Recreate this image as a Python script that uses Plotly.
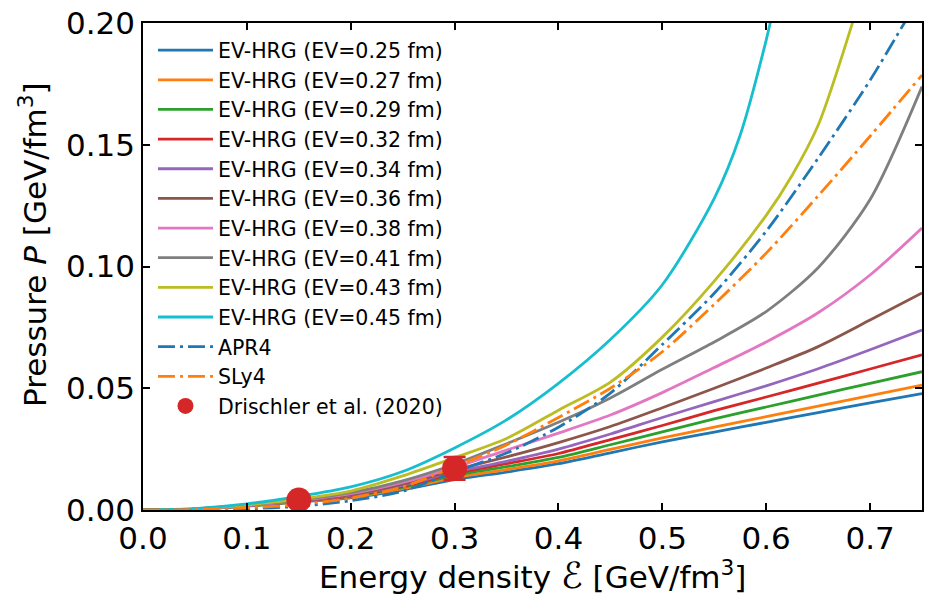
import plotly.graph_objects as go

# ---- data ----
x_grid = [0.0, 0.05, 0.10, 0.15, 0.20, 0.25, 0.30, 0.35, 0.40, 0.45, 0.50, 0.55, 0.60, 0.65, 0.70, 0.75]

p_ev025 = [0, 0.0004, 0.0016, 0.0033, 0.0050, 0.0083, 0.0125, 0.0156, 0.0190, 0.0235, 0.0280, 0.0320, 0.0360, 0.0400, 0.0440, 0.0478]
p_ev027 = [0, 0.0004, 0.0017, 0.0034, 0.0053, 0.0088, 0.0133, 0.0166, 0.0202, 0.0249, 0.0296, 0.0340, 0.0383, 0.0427, 0.0470, 0.0513]
p_ev029 = [0, 0.0004, 0.0017, 0.0035, 0.0056, 0.0093, 0.0142, 0.0178, 0.0216, 0.0268, 0.0321, 0.0374, 0.0423, 0.0472, 0.0520, 0.0568]
p_ev032 = [0, 0.0004, 0.0018, 0.0036, 0.0058, 0.0097, 0.0150, 0.0190, 0.0232, 0.0289, 0.0347, 0.0408, 0.0464, 0.0521, 0.0579, 0.0637]
p_ev034 = [0, 0.0004, 0.0018, 0.0037, 0.0061, 0.0101, 0.0156, 0.0200, 0.0250, 0.0312, 0.0380, 0.0445, 0.0510, 0.0580, 0.0658, 0.0739]
p_ev036 = [0, 0.0004, 0.0019, 0.0038, 0.0063, 0.0106, 0.0164, 0.0218, 0.0277, 0.0343, 0.0420, 0.0500, 0.0583, 0.0671, 0.0780, 0.0891]
p_ev038 = [0, 0.0004, 0.0019, 0.0039, 0.0067, 0.0113, 0.0175, 0.0246, 0.0316, 0.0390, 0.0482, 0.0585, 0.0690, 0.0810, 0.0965, 0.1158]
p_ev041 = [0, 0.0005, 0.0020, 0.0041, 0.0071, 0.0120, 0.0188, 0.0272, 0.0360, 0.0460, 0.0578, 0.0690, 0.0815, 0.0995, 0.1275, 0.1739]

x_ev043 = [0.0, 0.05, 0.10, 0.15, 0.20, 0.25, 0.30, 0.35, 0.40, 0.45, 0.50, 0.55, 0.60, 0.625, 0.65, 0.683, 0.70]
p_ev043 = [0, 0.0005, 0.0021, 0.0045, 0.0078, 0.0140, 0.0215, 0.0294, 0.0410, 0.0525, 0.0710, 0.0940, 0.1210, 0.1375, 0.1580, 0.2000, 0.2250]

x_ev045 = [0.0, 0.05, 0.10, 0.15, 0.20, 0.25, 0.30, 0.35, 0.40, 0.45, 0.50, 0.55, 0.575, 0.60, 0.61]
p_ev045 = [0, 0.0006, 0.0025, 0.0056, 0.0095, 0.0158, 0.0255, 0.0370, 0.0520, 0.0700, 0.0925, 0.1280, 0.1540, 0.1930, 0.2120]

x_apr4 = [0.0, 0.05, 0.10, 0.15, 0.20, 0.25, 0.30, 0.35, 0.40, 0.45, 0.50, 0.55, 0.60, 0.65, 0.70, 0.733, 0.75]
p_apr4 = [0, 0.0001, 0.0005, 0.0015, 0.0038, 0.0077, 0.0157, 0.0234, 0.0340, 0.0480, 0.0680, 0.0890, 0.1145, 0.1445, 0.1765, 0.2000, 0.2120]

x_sly4 = [0.0, 0.05, 0.10, 0.15, 0.20, 0.25, 0.30, 0.35, 0.40, 0.45, 0.50, 0.55, 0.60, 0.65, 0.70, 0.75]
p_sly4 = [0, 0.0002, 0.0009, 0.0022, 0.0049, 0.0095, 0.0178, 0.0267, 0.0380, 0.0500, 0.0650, 0.0845, 0.1055, 0.1290, 0.1535, 0.1786]

drischler_e = [0.15, 0.30]
drischler_p = [0.0041, 0.0171]
drischler_err = [0.0008, 0.0047]

ev_labels = ["0.25", "0.27", "0.29", "0.32", "0.34", "0.36", "0.38", "0.41", "0.43", "0.45"]
ev_x = [x_grid] * 8 + [x_ev043, x_ev045]
ev_p = [p_ev025, p_ev027, p_ev029, p_ev032, p_ev034, p_ev036, p_ev038, p_ev041, p_ev043, p_ev045]

x_ticks = [0.0, 0.1, 0.2, 0.3, 0.4, 0.5, 0.6, 0.7]
y_ticks = [0.00, 0.05, 0.10, 0.15, 0.20]

# ---- styling ----
colors = ["#1f77b4", "#ff7f0e", "#2ca02c", "#d62728", "#9467bd",
          "#8c564b", "#e377c2", "#7f7f7f", "#bcbd22", "#17becf"]
LW = 2.8
DASHDOT = "17px,5px,3px,5px"
FONT = "DejaVu Sans"
SPL = dict(shape="spline", smoothing=0.8)

fig = go.Figure()
for lab, xs, ps, c in zip(ev_labels, ev_x, ev_p, colors):
    fig.add_trace(go.Scatter(x=xs, y=ps, mode="lines", name=f"EV-HRG (EV={lab} fm)",
                             line=dict(color=c, width=LW, **SPL)))

fig.add_trace(go.Scatter(x=x_apr4, y=p_apr4, mode="lines", name="APR4",
                         line=dict(color=colors[0], width=LW, dash=DASHDOT, **SPL)))
fig.add_trace(go.Scatter(x=x_sly4, y=p_sly4, mode="lines", name="SLy4",
                         line=dict(color=colors[1], width=LW, dash=DASHDOT, **SPL)))
fig.add_trace(go.Scatter(x=drischler_e, y=drischler_p, mode="markers", name="Drischler et al. (2020)",
                         marker=dict(color="#d62728", size=25),
                         error_y=dict(type="data", array=drischler_err, color="#d62728",
                                      thickness=2.5, width=11)))

axis_common = dict(showline=True, linecolor="black", linewidth=1.5, mirror="ticks",
                   ticks="inside", ticklen=7, tickwidth=1.5, tickcolor="black",
                   showgrid=False, zeroline=False,
                   tickfont=dict(family=FONT, size=31, color="black"))

x_title = ("Energy density\u00a0<span style='font-size:36px'>\u2130</span>\u00a0"
           "[GeV/fm<sup>3</sup>]")

fig.update_layout(
    width=925, height=595,
    margin=dict(l=143, r=1, t=23, b=85),
    paper_bgcolor="white", plot_bgcolor="white",
    font=dict(family=FONT, color="black"),
    showlegend=True,
    legend=dict(x=0.0128, y=0.985, xanchor="left", yanchor="top",
                bgcolor="rgba(255,255,255,0)", borderwidth=0,
                itemwidth=55,
                font=dict(family=FONT, size=20.5, color="black"),
                tracegroupgap=0),
    xaxis=dict(range=[0, 0.75], tickvals=x_ticks, ticktext=[f"{v:.1f}" for v in x_ticks],
               **axis_common),
    yaxis=dict(range=[0, 0.2], tickvals=y_ticks, ticktext=[f"{v:.2f}" for v in y_ticks],
               **axis_common),
    annotations=[
        dict(text=x_title, xref="paper", yref="paper",
             x=0.5, y=-0.135, xanchor="center", yanchor="middle", showarrow=False,
             font=dict(family=FONT, size=31, color="black")),
        dict(text="Pressure <i>P</i> [GeV/fm<sup>3</sup>]", xref="paper", yref="paper",
             x=-0.142, y=0.545, xanchor="center", yanchor="middle", showarrow=False,
             textangle=-90, font=dict(family=FONT, size=31, color="black")),
    ],
)

fig.write_html("out.html")
